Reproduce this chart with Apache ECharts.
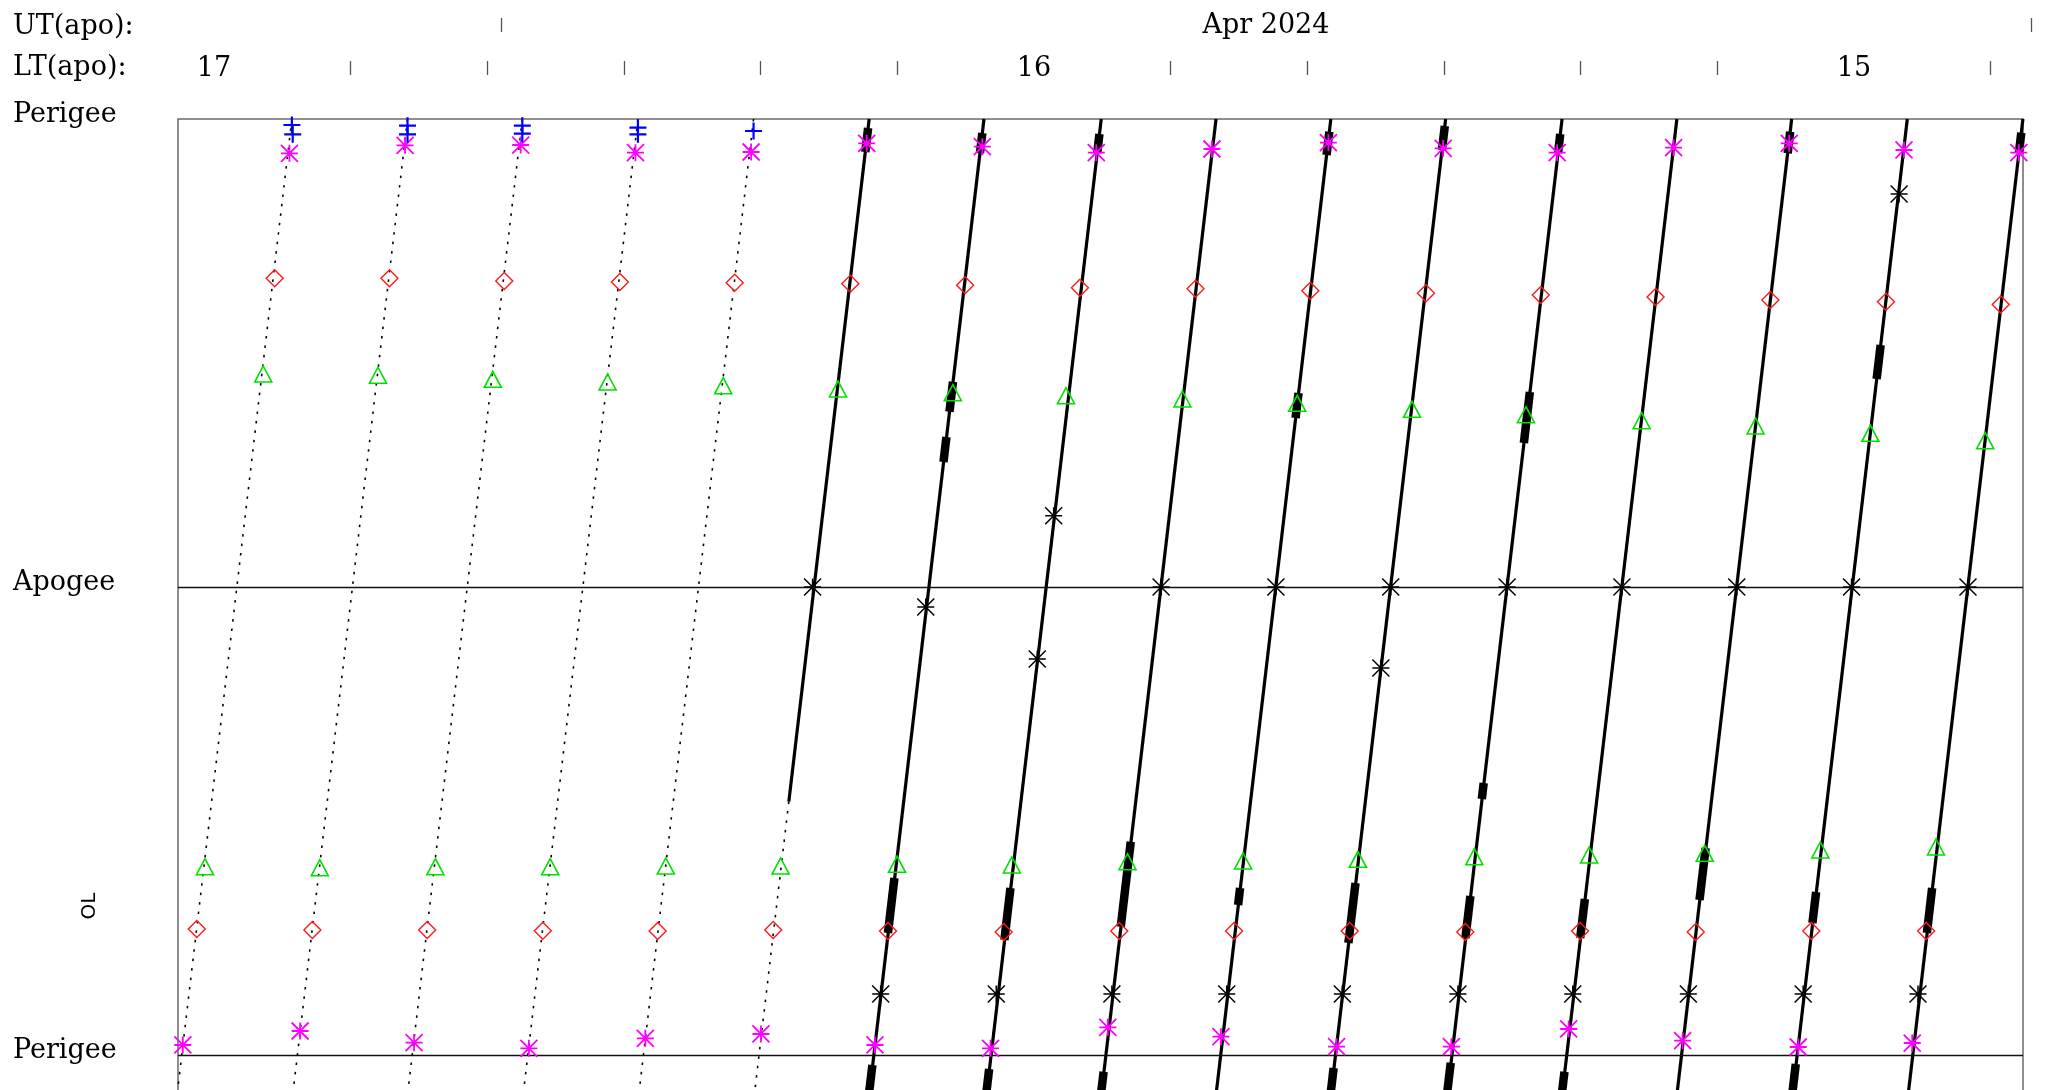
<!DOCTYPE html>
<html><head><meta charset="utf-8">
<script src="https://cdn.jsdelivr.net/npm/echarts@6/dist/echarts.min.js"></script>
<style>html,body{margin:0;padding:0;background:#fff}#c{width:2047px;height:1090px}</style>
</head><body><div id="c"></div>
<script>
// ---------------- data (x = local time of apogee in hours, y = orbit phase: 0 perigee, 1 apogee, 2 next perigee)
const ltTickValues = [16.8333,16.6667,16.5,16.3333,16.1667,15.8333,15.6667,15.5,15.3333,15.1667,14.8333];
const ltLabelValues = [17,16,15];
const utTickValues = [0,1];          // day boundaries
const utLabelValues = [0.5];
const utLabelText = 'Apr 2024';
const yLabelValues = [0,1,2];
const yLabelNames = ['Perigee','Apogee','Perigee'];

const orbitTopLT    = [16.905,16.764,16.624,16.483,16.342,16.201,16.061,15.918,15.778,15.638,15.498,15.356,15.216,15.076,14.935,14.794];
const orbitBottomLT = [17.046,16.905,16.765,16.624,16.483,16.342,16.202,16.059,15.919,15.779,15.639,15.497,15.357,15.217,15.076,14.935];
const orbitBottomPhase = 2.1;
const dottedOrbitCount = 5;              // first orbits drawn dotted
const orbit6SolidEnd = [16.299,1.4585];  // orbit 6 solid up to here, dotted after

const thickSegments = [
 [16.2023,0.0192,16.2057,0.0705],
 [16.0630,0.0299,16.0659,0.0726],[16.0988,0.5613,16.1031,0.6254],[16.1068,0.6795,16.1104,0.7329],[16.1702,1.6218,16.1781,1.7393],[16.1971,2.0214,16.2024,2.1],
 [15.9202,0.0321,15.9229,0.0726],[16.0287,1.6432,16.0361,1.7543],[16.0547,2.0299,16.0594,2.1],
 [15.8820,1.5442,15.8942,1.7259],[15.9151,2.0357,15.9194,2.1],
 [15.6398,0.0271,15.6432,0.0769],[15.6774,0.5855,15.6810,0.6389],[15.7487,1.6432,15.7511,1.6795],
 [15.4990,0.0150,15.5025,0.0662],[15.6079,1.6325,15.6166,1.7607],[15.6346,2.0278,15.6394,2.1],
 [15.3582,0.0321,15.3609,0.0726],[15.3953,0.5833,15.4026,0.6923],[15.4516,1.4188,15.4539,1.4530],[15.4678,1.6603,15.4739,1.75],[15.4918,2.0165,15.4974,2.1],
 [15.3282,1.6667,15.3339,1.75],[15.3531,2.0357,15.3574,2.1],
 [15.0778,0.0271,15.0809,0.0733],[15.1809,1.5577,15.1884,1.6688],
 [14.9675,0.4829,14.9724,0.5556],[15.0462,1.6517,15.0507,1.7179],[15.0710,2.0192,15.0764,2.1],
 [14.7960,0.0293,14.7989,0.0733],[14.9047,1.6432,14.9111,1.7393]
];

const bluePlus = [[16.905,0.0128],[16.904,0.0327],[16.764,0.0143],[16.764,0.0327],[16.624,0.0143],[16.624,0.0314],[16.483,0.0186],[16.483,0.0327],[16.342,0.0256]];
const magentaTop = [[16.908,0.0733],[16.767,0.0562],[16.626,0.0556],[16.486,0.0720],[16.345,0.0705],[16.204,0.0519],[16.063,0.0592],[15.924,0.0720],[15.783,0.0641],[15.641,0.0506],[15.501,0.0626],[15.362,0.0720],[15.220,0.0613],[15.079,0.0519],[14.939,0.0662],[14.799,0.0720]];
const magentaBottom = [[17.038,1.9786],[16.895,1.9487],[16.756,1.9737],[16.616,1.9857],[16.474,1.9643],[16.333,1.9551],[16.194,1.9786],[16.053,1.9857],[15.910,1.9408],[15.772,1.9609],[15.631,1.9823],[15.491,1.9823],[15.348,1.9444],[15.209,1.9694],[15.068,1.9829],[14.929,1.9744]];
const diamondTop = [[16.926,0.3404],[16.786,0.3404],[16.646,0.3462],[16.505,0.3483],[16.365,0.3498],[16.224,0.3519],[16.084,0.3553],[15.944,0.3605],[15.803,0.3626],[15.663,0.3669],[15.522,0.3724],[15.382,0.3761],[15.242,0.3803],[15.102,0.3868],[14.961,0.3904],[14.821,0.3966]];
const diamondBottom = [[17.021,1.7308],[16.880,1.7329],[16.740,1.7329],[16.599,1.7344],[16.459,1.7350],[16.318,1.7329],[16.178,1.7350],[16.037,1.7372],[15.896,1.7350],[15.756,1.7350],[15.615,1.7350],[15.474,1.7372],[15.334,1.7350],[15.193,1.7372],[15.052,1.7350],[14.912,1.7350]];
const triangleTop = [[16.940,0.5449],[16.800,0.5476],[16.660,0.5562],[16.520,0.5620],[16.379,0.5699],[16.239,0.5769],[16.099,0.5848],[15.961,0.5912],[15.819,0.5983],[15.679,0.6075],[15.539,0.6203],[15.400,0.6318],[15.259,0.6447],[15.120,0.6560],[14.980,0.6716],[14.840,0.6874]];
const triangleBottom = [[17.011,1.5976],[16.871,1.5998],[16.730,1.5976],[16.590,1.5976],[16.449,1.5962],[16.309,1.5962],[16.167,1.5925],[16.027,1.5940],[15.886,1.5870],[15.745,1.5855],[15.605,1.5818],[15.463,1.5763],[15.323,1.5726],[15.182,1.5690],[15.041,1.5620],[14.900,1.5556]];
const blackStar = [[16.270,1.0],[16.132,1.0427],[15.976,0.8476],[15.996,1.1538],[15.845,1.0],[15.705,1.0],[15.565,1.0],[15.577,1.1731],[15.423,1.0],[15.283,1.0],[15.143,1.0],[15.003,1.0],[14.861,1.0],[14.945,0.1603],
 [16.187,1.8697],[16.046,1.8697],[15.905,1.8697],[15.765,1.8697],[15.624,1.8697],[15.483,1.8697],[15.343,1.8697],[15.202,1.8697],[15.062,1.8697],[14.922,1.8697]];

// ---------------- build
const FONT = 'DejaVu Serif';
const dotted = [], solid = [];
orbitTopLT.forEach((t, i) => {
  const top = [t, 0], bot = [orbitBottomLT[i], orbitBottomPhase];
  if (i < dottedOrbitCount) dotted.push({coords:[top, bot]});
  else if (i === dottedOrbitCount) { solid.push({coords:[top, orbit6SolidEnd]}); dotted.push({coords:[orbit6SolidEnd, bot]}); }
  else solid.push({coords:[top, bot]});
});
const thick = thickSegments.map(s => ({coords:[[s[0],s[1]],[s[2],s[3]]]}));

const STAR8 = 'path://M0,5L10,5M5,0L5,10M0,0L10,10M0,10L10,0';
const PLUS = 'path://M0,5L10,5M5,0L5,10';
function scat(data, symbol, size, color, bw, z) {
  return {type:'scatter', xAxisIndex:0, yAxisIndex:0, data, symbol, symbolSize:size, clip:false, silent:true, z,
    itemStyle:{color:'rgba(0,0,0,0)', borderColor:color, borderWidth:bw, opacity:1}};
}

const chart = echarts.init(document.getElementById('c'), null, {renderer:'canvas'});
const option = {
  animation:false,
  backgroundColor:'#fff',
  grid:[
    {left:178, right:24, top:119, height:982.8, outerBoundsMode:'none', containLabel:false,
     show:true, borderColor:'#6a6a6a', borderWidth:1.5, backgroundColor:'rgba(0,0,0,0)'},
    {left:178, right:0, top:32, height:10, outerBoundsMode:'none', containLabel:false, show:false}
  ],
  xAxis:[
    {gridIndex:0, type:'value', inverse:true, min:14.7939, max:17.0439, position:'top', offset:44,
     axisLine:{show:false, onZero:false}, splitLine:{show:false},
     axisTick:{show:true, customValues:ltTickValues, length:14, lineStyle:{color:'#555', width:1.3}},
     axisLabel:{show:true, customValues:ltLabelValues, formatter:v=>String(Math.round(v)), margin:6.5, verticalAlign:'middle',
       fontFamily:FONT, fontSize:27, color:'#000'}},
    {gridIndex:1, type:'value', min:-0.2111, max:1.0105, position:'top',
     axisLine:{show:false, onZero:false}, splitLine:{show:false},
     axisTick:{show:true, customValues:utTickValues, length:14, lineStyle:{color:'#555', width:1.3}},
     axisLabel:{show:true, customValues:utLabelValues, formatter:()=>utLabelText, margin:6, verticalAlign:'middle',
       fontFamily:FONT, fontSize:27, color:'#000'}}
  ],
  yAxis:[
    {gridIndex:0, type:'value', inverse:true, min:0, max:2.1,
     axisLine:{show:false, onZero:false}, axisTick:{show:false}, splitLine:{show:false},
     axisLabel:{show:true, customValues:yLabelValues, formatter:v=>yLabelNames[Math.round(v)], align:'left', margin:165,
       verticalAlign:'bottom', lineHeight:9, fontFamily:FONT, fontSize:27, color:'#000'}},
    {gridIndex:1, type:'value', min:0, max:1, show:false, axisLine:{onZero:false}}
  ],
  graphic:[
    {type:'text', left:13, top:27.8-14, style:{text:'UT(apo):', font:'27px "DejaVu Serif"', fill:'#000'}},
    {type:'text', left:13, top:68.7-14, style:{text:'LT(apo):', font:'27px "DejaVu Serif"', fill:'#000'}},
    {type:'text', x:90, y:906, rotation:Math.PI/2, style:{text:'OL', font:'20px "DejaVu Sans"', fill:'#000', align:'center', verticalAlign:'middle'}}
  ],
  series:[
    {type:'lines', coordinateSystem:'cartesian2d', xAxisIndex:0, yAxisIndex:0, polyline:false, clip:true, silent:true, z:2,
     lineStyle:{color:'#000', width:1.6, type:[2.5,7], opacity:1}, data:dotted},
    {type:'lines', coordinateSystem:'cartesian2d', xAxisIndex:0, yAxisIndex:0, polyline:false, clip:true, silent:true, z:3,
     lineStyle:{color:'#000', width:3.2, type:'solid', opacity:1}, data:solid},
    {type:'lines', coordinateSystem:'cartesian2d', xAxisIndex:0, yAxisIndex:0, polyline:false, clip:true, silent:true, z:4,
     lineStyle:{color:'#000', width:8.5, type:'solid', opacity:1, cap:'butt'}, data:thick},
    Object.assign(scat(triangleTop.concat(triangleBottom), 'triangle', [17,16], '#00e000', 1.6, 6), {
      markLine:{silent:true, symbol:['none','none'], label:{show:false}, animation:false,
        lineStyle:{color:'#111', width:1.4, type:'solid'}, data:[{yAxis:1},{yAxis:2}]}}),
    scat(diamondTop.concat(diamondBottom), 'diamond', [17,17], '#ff1a1a', 1.4, 6),
    scat(blackStar, STAR8, 17, '#000', 1.5, 7),
    scat(magentaTop.concat(magentaBottom), STAR8, 17, '#ff00ff', 1.8, 8),
    scat(bluePlus, PLUS, 17, '#0000ff', 2.2, 9)
  ]
};
chart.setOption(option);
</script></body></html>
